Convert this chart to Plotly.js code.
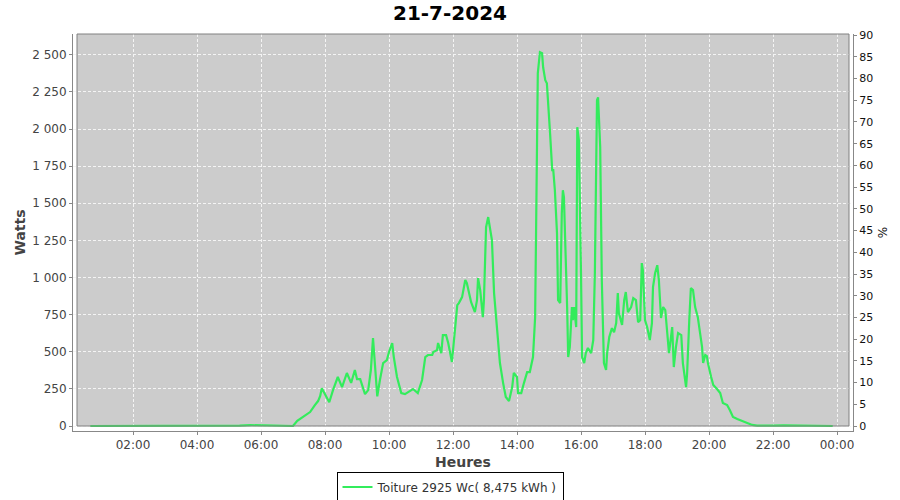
<!DOCTYPE html>
<html>
<head>
<meta charset="utf-8">
<script src="https://cdn.plot.ly/plotly-3.0.1.min.js"></script>
<style>html,body{margin:0;padding:0;background:#fff;}#chart{width:900px;height:500px;}</style>
</head>
<body>
<div id="chart"></div>
<script>
// Time of each sample (21-7-2024)
const times = [
"00:40","01:00","01:30","02:00","02:30","03:00","03:30","04:00","04:30","05:00","05:20","05:40","06:00","06:20","06:40","06:55",
"07:00","07:08","07:13","07:23","07:32","07:41","07:47","07:51","07:54","08:08","08:15","08:24","08:32","08:41","08:49","08:56",
"09:00","09:06","09:15","09:21","09:26","09:30","09:38","09:43","09:49","09:56","10:00","10:06","10:09","10:15","10:23","10:30",
"10:45","10:54","11:02","11:08","11:13","11:21","11:23","11:30","11:32","11:38","11:41","11:47","11:51","11:58","12:02","12:08",
"12:11","12:17","12:23","12:26","12:34","12:41","12:45","12:47","12:51","12:56","12:58","13:02","13:06","13:09","13:13","13:17",
"13:23","13:28","13:34","13:39","13:45","13:51","13:54","14:00","14:02","14:08","14:13","14:19","14:24","14:30","14:34","14:38",
"14:39","14:43","14:47","14:49","14:53","14:56","14:58","15:02","15:06","15:08","15:11","15:15","15:17","15:21","15:24","15:26",
"15:28","15:30","15:34","15:36","15:39","15:43","15:45","15:47","15:51","15:53","15:56","16:00","16:02","16:06","16:09","16:13",
"16:19","16:23","16:26","16:30","16:32","16:36","16:39","16:43","16:47","16:49","16:53","16:58","17:02","17:06","17:09","17:11",
"17:17","17:21","17:24","17:28","17:34","17:38","17:43","17:47","17:51","17:54","17:56","18:00","18:04","18:09","18:13","18:15",
"18:19","18:23","18:26","18:30","18:34","18:38","18:41","18:45","18:51","18:54","18:58","19:02","19:08","19:11","19:17","19:19",
"19:23","19:26","19:30","19:34","19:39","19:43","19:47","19:49","19:53","19:56","19:58","20:04","20:08","20:15","20:21","20:26",
"20:34","20:39","20:45","20:53","20:58","21:04","21:11","21:21","21:30","21:45","22:00","22:20","22:40","23:00","23:20","23:40","23:52"
];
// Power (W), Toiture 2925 Wc
const watts = [
0,0,2,0,3,0,2,4,0,5,3,6,4,7,5,2,
0,35,47,67,94,141,168,202,255,160,242,330,262,357,290,377,
316,316,215,242,377,592,200,310,424,444,498,559,464,330,222,215,
249,222,310,464,478,478,498,511,559,491,612,612,559,431,579,814,
828,868,983,962,834,767,848,996,915,733,848,1339,1407,1339,1252,895,
626,424,289,195,168,262,357,330,222,222,289,363,363,464,733,2059,
2375,2517,2510,2416,2329,2308,2214,1972,1723,1723,1588,1299,848,828,1433,1588,
1541,1339,801,464,531,801,713,801,666,2012,1925,1030,464,424,491,525,
491,579,1030,2194,2214,1878,983,424,377,491,599,659,632,693,895,760,
680,848,902,767,801,861,848,700,713,1097,1050,713,666,579,693,935,
1030,1083,983,727,801,781,646,491,666,397,531,626,612,424,262,357,
713,929,915,801,733,626,531,424,478,471,424,330,276,249,222,155,
141,108,61,47,40,27,20,7,3,5,3,4,2,3,2,1,0
];
const peakWc = 2925;
const seriesName = "Toiture 2925 Wc( 8,475 kWh )";
const day = "2024-07-21";

const x = times.map(t => day + " " + t);

const trace = {
  type: "scatter", mode: "lines", name: seriesName,
  x: x, y: watts,
  line: {color: "#33ec5c", width: 2.2},
  hoverinfo: "x+y"
};
// Empty trace that only registers the right-hand % axis
const pctAxisTrace = {
  type: "scatter", mode: "lines", x: [], y: [], yaxis: "y2",
  showlegend: false, hoverinfo: "skip"
};

const gray = "#888888";
const layout = {
  width: 900, height: 500,
  margin: {l: 73, r: 47, t: 34, b: 69},
  paper_bgcolor: "#ffffff",
  plot_bgcolor: "#ffffff",
  separators: ", ",
  font: {family: "DejaVu Sans", size: 12, color: "#444444"},
  title: {
    text: "21-7-2024",
    font: {family: "DejaVu Sans", size: 20, weight: "bold", color: "#000000"},
    x: 0.5, xref: "container", xanchor: "center",
    y: 0.974, yref: "container", yanchor: "middle"
  },
  xaxis: {
    type: "date",
    range: ["2024-07-21 00:07:30", "2024-07-22 00:30"],
    tick0: "2024-07-21 00:00", dtick: 7200000,
    tickformat: "%H:%M",
    showgrid: true, gridcolor: "#f4f4f4", griddash: "3px,2px", gridwidth: 1,
    showline: true, linecolor: gray, linewidth: 1,
    ticks: "outside", ticklen: 3, tickcolor: gray,
    tickfont: {size: 12, color: "#444444"},
    zeroline: false, fixedrange: true,
    title: {text: "Heures", font: {size: 14, weight: "bold", color: "#444444"}, standoff: 5}
  },
  yaxis: {
    range: [-33.67, 2640],
    tick0: 0, dtick: 250, tickformat: ",d",
    showgrid: true, gridcolor: "#f4f4f4", griddash: "3px,2px", gridwidth: 1,
    showline: true, linecolor: gray, linewidth: 1,
    ticks: "outside", ticklen: 3, tickcolor: gray,
    tickfont: {size: 12, color: "#444444"},
    zeroline: false, fixedrange: true,
    title: {text: "Watts", font: {size: 14, weight: "bold", color: "#444444"}, standoff: 3}
  },
  yaxis2: {
    overlaying: "y", side: "right", anchor: "x",
    range: [-1.151, 90.26],
    tick0: 0, dtick: 5,
    showgrid: false, zeroline: false,
    showline: true, linecolor: gray, linewidth: 1,
    ticks: "outside", ticklen: 3, tickcolor: gray,
    tickfont: {size: 11, color: "#111111"},
    fixedrange: true,
    title: {text: "%", font: {size: 12, color: "#111111"}, standoff: 6}
  },
  shapes: [
    {type: "rect", xref: "paper", yref: "paper", layer: "below",
     x0: 4/780, x1: 776/780, y0: 5/397, y1: 1,
     fillcolor: "#cccccc", line: {width: 0}},
    {type: "rect", xref: "paper", yref: "paper", layer: "above",
     x0: 4/780, x1: 776/780, y0: 5/397, y1: 1,
     fillcolor: "rgba(0,0,0,0)", line: {color: "#808080", width: 1}}
  ],
  showlegend: true,
  legend: {
    orientation: "h",
    x: 0.5, xref: "container", xanchor: "center",
    y: 0.026, yref: "container", yanchor: "middle",
    bgcolor: "#ffffff", bordercolor: "#000000", borderwidth: 1,
    font: {size: 12, color: "#333333"},
    itemwidth: 30, tracegroupgap: 0
  }
};

Plotly.newPlot("chart", [trace, pctAxisTrace], layout, {staticPlot: true, displayModeBar: false});
</script>
</body>
</html>
